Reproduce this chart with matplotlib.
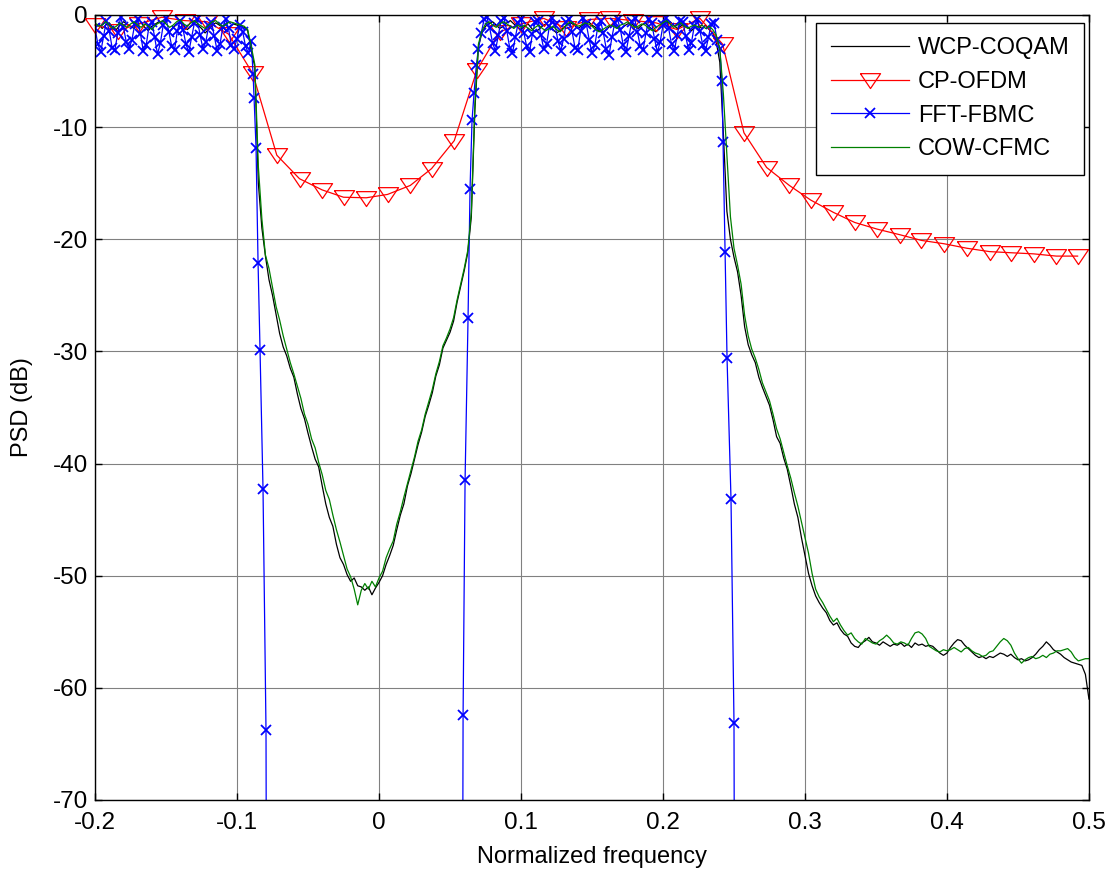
import numpy as np
import matplotlib
matplotlib.use('Agg')
import matplotlib.pyplot as plt

plt.rcParams['font.family'] = ['Liberation Sans', 'DejaVu Sans']
plt.rcParams['axes.unicode_minus'] = False

# frequency grid for the WCP-COQAM and COW-CFMC curves (step 0.0025)
freq = np.linspace(-0.2, 0.5, 281)

# WCP-COQAM, one row per 0.025 of normalized frequency
wcp_coqam = [
    -1.0, -0.8, -1.2, -0.9, -0.7, -1.1, -1.3, -0.9, -0.6, -0.8,
    -1.0, -1.2, -0.8, -0.7, -1.1, -1.4, -1.0, -0.8, -0.6, -0.9,
    -1.2, -1.5, -1.1, -0.8, -0.7, -1.0, -1.3, -1.0, -0.8, -0.9,
    -1.2, -1.6, -1.3, -0.9, -0.7, -0.9, -1.1, -1.4, -1.0, -0.8,
    -0.9, -1.0, -1.1, -1.4, -3.2, -4.6, -15.0, -19.0, -21.5, -23.6,
    -25.0, -26.7, -28.4, -29.6, -30.4, -31.5, -32.3, -33.8, -35.1, -36.0,
    -37.3, -38.5, -39.6, -40.3, -42.0, -43.6, -44.8, -45.6, -47.2, -48.4,
    -49.0, -49.9, -50.5, -50.2, -50.9, -51.0, -51.3, -51.0, -51.7, -51.1,
    -50.6, -50.0, -49.0, -48.2, -47.3, -45.9, -44.6, -43.6, -42.0, -40.9,
    -39.6, -38.3, -37.2, -35.8, -34.8, -33.7, -32.2, -31.2, -29.7, -29.0,
    -28.3, -27.3, -25.6, -24.2, -22.8, -21.2, -18.0, -8.5, -2.8, -1.6,
    -1.0, -0.8, -0.6, -0.9, -1.2, -1.0, -0.7, -0.5, -0.8, -1.1,
    -1.3, -1.0, -0.8, -1.2, -1.5, -1.3, -1.0, -0.8, -1.0, -1.3,
    -1.6, -1.4, -1.1, -0.9, -0.7, -0.9, -1.2, -1.0, -0.8, -0.6,
    -0.9, -1.1, -1.4, -1.6, -1.3, -1.0, -0.8, -1.1, -1.3, -1.0,
    -0.8, -0.7, -1.0, -1.2, -0.9, -0.7, -1.0, -1.3, -1.5, -1.2,
    -0.9, -0.7, -0.6, -0.9, -1.2, -1.0, -0.8, -1.1, -1.4, -1.1,
    -1.0, -1.2, -0.9, -1.3, -1.6, -2.4, -4.2, -10.5, -17.5, -20.0,
    -21.6, -22.9, -25.0, -27.8, -29.4, -30.3, -31.0, -32.3, -33.2, -34.0,
    -34.8, -36.1, -37.6, -38.2, -39.5, -40.5, -42.0, -43.6, -44.8, -46.6,
    -48.2, -49.8, -50.9, -51.8, -52.4, -52.9, -53.3, -54.0, -54.4, -54.2,
    -54.8, -55.2, -55.4, -56.0, -56.3, -56.4, -56.0, -55.8, -55.5, -55.9,
    -56.0, -56.2, -55.9, -56.1, -56.3, -56.1, -56.2, -56.0, -56.3, -56.1,
    -56.4, -56.0, -56.2, -56.1, -56.3, -56.2, -56.3, -56.6, -56.9, -57.1,
    -56.9, -56.4, -56.0, -55.7, -55.8, -56.2, -56.5, -56.8, -57.1, -57.3,
    -57.2, -57.4, -57.2, -57.3, -57.1, -56.9, -57.0, -57.2, -57.0, -57.3,
    -57.5, -57.4, -57.6, -57.5, -57.3, -57.0, -56.6, -56.3, -55.9, -56.2,
    -56.6, -56.8, -57.0, -57.3, -57.5, -57.7, -57.8, -57.9, -58.0, -58.8,
    -61.0,
]

# COW-CFMC on the same grid
cow_cfmc = [
    -0.7, -1.0, -0.9, -0.6, -0.9, -1.2, -1.0, -0.7, -0.9, -1.1,
    -0.8, -0.6, -0.9, -1.1, -0.8, -1.0, -1.3, -0.9, -0.7, -0.5,
    -0.8, -1.1, -0.9, -0.6, -0.4, -0.8, -1.0, -0.7, -0.5, -0.8,
    -1.0, -1.2, -0.9, -0.6, -0.5, -0.8, -1.0, -0.8, -0.6, -0.7,
    -0.8, -0.9, -1.0, -1.3, -2.8, -4.4, -13.5, -18.2, -21.4, -22.6,
    -24.3, -26.0, -27.2, -28.6, -29.8, -31.0, -32.0, -33.1, -34.2, -35.6,
    -36.5, -37.8, -38.6, -39.9, -41.0, -42.4, -43.2, -44.6, -45.9, -47.0,
    -48.2, -49.4, -50.1, -51.2, -52.6, -51.3, -50.7, -51.2, -50.5, -51.0,
    -50.2, -49.6, -48.4, -47.6, -46.9, -45.4, -44.3, -43.0, -41.8, -40.6,
    -39.4, -38.0, -37.0, -35.6, -34.5, -33.4, -32.0, -30.9, -29.5, -28.8,
    -28.0, -27.0, -25.4, -24.0, -22.6, -21.0, -17.6, -8.0, -2.6, -1.4,
    -0.8, -0.6, -0.9, -1.1, -0.8, -0.6, -0.8, -1.0, -1.2, -0.9,
    -1.1, -0.9, -1.2, -1.4, -1.1, -0.9, -1.2, -1.4, -1.2, -1.0,
    -1.3, -1.5, -1.2, -0.8, -0.6, -0.8, -1.0, -0.9, -0.7, -0.8,
    -1.0, -1.3, -1.5, -1.3, -1.1, -0.9, -1.0, -1.2, -0.9, -0.8,
    -0.6, -0.9, -1.1, -1.0, -0.8, -0.9, -1.2, -1.4, -1.1, -0.9,
    -0.7, -0.5, -0.8, -1.1, -0.9, -0.7, -1.0, -1.2, -1.0, -0.9,
    -1.1, -0.9, -1.2, -1.0, -1.3, -1.8, -3.0, -7.0, -12.5, -18.0,
    -20.8, -22.3, -24.0, -26.8, -28.6, -29.8, -30.6, -31.6, -32.8, -33.6,
    -34.4, -35.6, -36.9, -37.8, -39.0, -40.2, -41.3, -42.6, -43.8, -45.2,
    -46.6, -48.0, -49.8, -51.2, -51.9, -52.4, -53.0, -53.6, -54.1, -53.8,
    -54.4, -54.9, -55.3, -55.1, -55.6, -55.9, -56.1, -55.6, -55.8, -56.0,
    -56.1, -55.8, -55.6, -55.3, -55.6, -56.0, -56.1, -55.9, -56.0, -56.2,
    -55.6, -55.1, -55.0, -55.2, -55.6, -56.3, -56.5, -56.7, -56.8, -56.6,
    -56.7, -56.6, -56.4, -56.6, -56.8, -56.5, -56.4, -56.7, -56.9, -57.0,
    -57.2, -57.1, -56.8, -56.7, -56.3, -55.9, -55.6, -55.8, -56.2, -56.9,
    -57.4, -57.8, -57.5, -57.3, -57.2, -57.4, -57.3, -57.1, -57.3, -57.0,
    -56.9, -56.7, -56.7, -56.6, -56.5, -56.8, -57.3, -57.6, -57.5, -57.4,
    -57.4,
]

# CP-OFDM, the marker points
ofdm_freq = [
    -0.200, -0.184, -0.169, -0.153, -0.137, -0.121, -0.106, -0.089, -0.072, -0.056,
    -0.040, -0.025, -0.009, 0.006, 0.022, 0.037, 0.053, 0.069, 0.085, 0.100,
    0.116, 0.132, 0.148, 0.163, 0.179, 0.195, 0.210, 0.226, 0.242, 0.257,
    0.273, 0.289, 0.304, 0.320, 0.335, 0.351, 0.367, 0.382, 0.398, 0.414,
    0.430, 0.445, 0.461, 0.477, 0.492,
]
cp_ofdm = [
    -0.9, -1.4, -0.8, -0.2, -0.5, -0.6, -1.7, -5.2, -12.5, -14.6,
    -15.6, -16.25, -16.3, -16.0, -15.2, -13.7, -11.2, -4.9, -1.5, -0.8,
    -0.3, -1.2, -0.4, -0.3, -0.5, -0.7, -1.3, -0.3, -2.6, -10.5,
    -13.6, -15.2, -16.5, -17.6, -18.5, -19.1, -19.6, -20.1, -20.4, -20.8,
    -21.1, -21.2, -21.3, -21.5, -21.5,
]

# FFT-FBMC: passbands on a 0.002 grid, steep edges read point by point
fbmc_band1 = [
    -1.2, -2.6, -3.3, -1.9, -0.5, -1.4, -2.9, -3.1, -1.6, -0.2,
    -1.1, -2.4, -3.0, -2.2, -0.8, -0.4, -1.7, -3.2, -2.7, -1.0,
    -0.6, -2.0, -3.5, -2.5, -0.9, -0.3, -1.5, -2.8, -3.1, -1.4,
    -0.5, -1.3, -2.6, -3.3, -2.0, -0.7, -0.4, -1.8, -3.0, -2.4,
    -1.0, -0.6, -1.9, -3.2, -2.6, -1.1, -0.4, -1.2, -2.7, -3.0,
    -2.1, -0.9, -1.5, -2.8, -3.4, -2.3,
]
fbmc_edge1_f = [-0.0887, -0.0880, -0.0866, -0.0852, -0.0838, -0.0817, -0.0796, -0.0789]
fbmc_edge1 = [-5.3, -7.4, -11.9, -22.1, -29.9, -42.3, -63.8, -100.0]
fbmc_edge2_f = [0.0585, 0.0592, 0.0606, 0.0627, 0.0641, 0.0655, 0.0669, 0.0685]
fbmc_edge2 = [-100.0, -62.4, -41.5, -27.0, -15.5, -9.4, -7.0, -4.5]
fbmc_band2 = [
    -3.0, -1.6, -0.4, -0.2, -1.2, -2.5, -3.2, -1.8, -0.5, -0.3,
    -1.4, -2.9, -3.4, -2.0, -0.7, -0.4, -1.6, -2.8, -3.3, -1.7,
    -0.6, -0.5, -1.8, -3.0, -2.6, -1.0, -0.3, -0.9, -2.3, -3.2,
    -2.1, -0.6, -0.4, -1.5, -2.9, -3.1, -1.4, -0.3, -0.8, -2.2,
    -3.4, -2.7, -1.1, -0.5, -1.6, -3.0, -3.6, -2.0, -0.7, -0.4,
    -1.3, -2.7, -3.3, -1.9, -0.6, -0.3, -1.5, -2.8, -3.1, -1.6,
    -0.4, -0.7, -2.1, -3.3, -2.4, -0.9, -0.3, -1.2, -2.6, -3.2,
    -1.8, -0.5, -0.6, -1.9, -3.1, -2.5, -1.0, -0.4, -1.4, -2.7,
    -3.2, -2.0, -0.8, -0.7, -2.2, -3.0,
]
fbmc_edge3_f = [0.2415, 0.2423, 0.2437, 0.2451, 0.2479, 0.2500, 0.2507]
fbmc_edge3 = [-5.9, -11.3, -21.1, -30.6, -43.2, -63.1, -100.0]

labels = ['WCP-COQAM', 'CP-OFDM', 'FFT-FBMC', 'COW-CFMC']

# put the FBMC pieces together, NaN breaks the line in the deep stopbands
fbmc_f = np.concatenate([np.linspace(-0.2, -0.09, len(fbmc_band1)), fbmc_edge1_f, [np.nan],
                         fbmc_edge2_f, np.linspace(0.070, 0.240, len(fbmc_band2)), fbmc_edge3_f])
fbmc_p = np.concatenate([fbmc_band1, fbmc_edge1, [np.nan],
                         fbmc_edge2, fbmc_band2, fbmc_edge3])

fig = plt.figure(figsize=(11.13, 8.72), dpi=100)
ax = fig.add_axes([0.0854, 0.0826, 0.893, 0.9002])

ax.plot(freq, wcp_coqam, color='k', lw=0.9, label=labels[0])
tri = [(-1.25, 0.85), (1.25, 0.85), (0.0, -1.0), (-1.25, 0.85)]
ax.plot(ofdm_freq, cp_ofdm, color='r', lw=0.9, marker=tri, ms=14.5, mfc='none', mec='r',
        mew=0.9, clip_on=False, label=labels[1])
ax.plot(fbmc_f, fbmc_p, color='b', lw=0.9, marker='x', ms=7.5, mew=1.3, label=labels[2])
ax.plot(freq, cow_cfmc, color='#008000', lw=0.9, label=labels[3])

ax.set_xlim(-0.2, 0.5)
ax.set_ylim(-70, 0)
ax.set_xticks(np.arange(-0.2, 0.51, 0.1))
ax.set_xticklabels(['-0.2', '-0.1', '0', '0.1', '0.2', '0.3', '0.4', '0.5'])
ax.set_yticks(np.arange(-70, 1, 10))
ax.grid(True, color='#808080', lw=0.8)
ax.tick_params(direction='in', length=5, width=1, top=True, right=True, labelsize=17.5)
ax.tick_params(axis='x', pad=9)
ax.tick_params(axis='y', pad=5)
for s in ax.spines.values():
    s.set_linewidth(1.0)

ax.set_xlabel('Normalized frequency', fontsize=17, labelpad=8)
ax.set_ylabel('PSD (dB)', fontsize=17, labelpad=14)

leg = ax.legend(loc='upper right', bbox_to_anchor=(0.995, 0.99), borderaxespad=0,
                fontsize=17, fancybox=False, framealpha=1, edgecolor='k',
                handlelength=3.3, handletextpad=0.4, labelspacing=0.5, borderpad=0.6,
                numpoints=1)
leg.get_frame().set_linewidth(1.0)

fig.savefig('out.png', dpi=100)
